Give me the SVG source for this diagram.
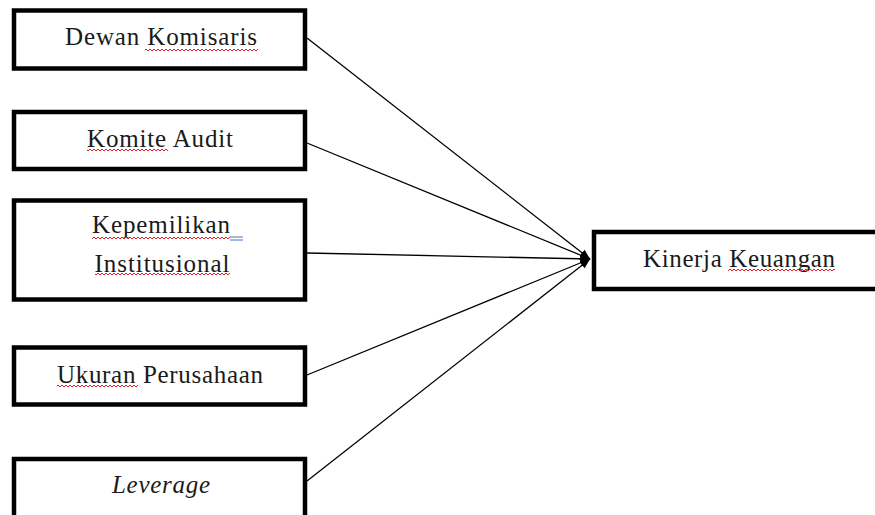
<svg xmlns="http://www.w3.org/2000/svg" width="875" height="515" viewBox="0 0 875 515">
<style>
.box{fill:#fff;stroke:#000;stroke-width:4.5}
.lbl{font-family:"Liberation Serif","Times New Roman",serif;font-size:25px;fill:#1a1a1a;text-anchor:middle}
.it{font-style:italic}
.conn{stroke:#000;stroke-width:1.3;fill:none;marker-end:url(#ah)}
.sq{fill:url(#wave)}
.gm{stroke:#4472c4;stroke-width:1}
</style>
<defs>
<marker id="ah" viewBox="0 0 10 8" refX="10" refY="4" markerWidth="10" markerHeight="8" markerUnits="userSpaceOnUse" orient="auto">
<path d="M0,0 L10,4 L0,8 Z" fill="#000"/>
</marker>
<pattern id="wave" width="4" height="4" patternUnits="userSpaceOnUse">
<path d="M0,3 L2,1 L4,3" fill="none" stroke="#e02020" stroke-width="1"/>
</pattern>
</defs>
<g id="connectors">
<line class="conn" x1="307" y1="38" x2="590" y2="259"/>
<line class="conn" x1="307" y1="143" x2="590" y2="259"/>
<line class="conn" x1="307" y1="253" x2="590" y2="259"/>
<line class="conn" x1="307" y1="375" x2="590" y2="259"/>
<line class="conn" x1="307" y1="481" x2="590" y2="259"/>
</g>
<g id="dewan-komisaris">
<rect class="box" x="14" y="10.5" width="291" height="58"/>
<text class="lbl" x="161" y="45" textLength="192">Dewan Komisaris</text>
<rect class="sq" x="145" y="48" width="113" height="4"/>
</g>
<g id="komite-audit">
<rect class="box" x="14" y="112" width="291" height="57"/>
<text class="lbl" x="160" y="147" textLength="146">Komite Audit</text>
<rect class="sq" x="87" y="149" width="81" height="4"/>
</g>
<g id="kepemilikan-institusional">
<rect class="box" x="14" y="200.5" width="291" height="99"/>
<text class="lbl" x="161" y="233" textLength="138">Kepemilikan</text>
<rect class="sq" x="92" y="235" width="138" height="4"/>
<line class="gm" x1="230" y1="237" x2="243" y2="237"/>
<line class="gm" x1="230" y1="240" x2="243" y2="240"/>
<text class="lbl" x="162" y="272" textLength="135">Institusional</text>
<rect class="sq" x="95" y="273" width="135" height="4"/>
</g>
<g id="ukuran-perusahaan">
<rect class="box" x="14" y="347.5" width="291" height="57"/>
<text class="lbl" x="160" y="383" textLength="206">Ukuran Perusahaan</text>
<rect class="sq" x="57" y="385" width="81" height="4"/>
</g>
<g id="leverage">
<rect class="box" x="14" y="459" width="291" height="70"/>
<text class="lbl it" x="161" y="493" textLength="98">Leverage</text>
</g>
<g id="kinerja-keuangan">
<rect class="box" x="594" y="232" width="300" height="57"/>
<text class="lbl" x="739" y="267" textLength="192">Kinerja Keuangan</text>
<rect class="sq" x="728" y="268" width="107" height="4"/>
</g>
</svg>
